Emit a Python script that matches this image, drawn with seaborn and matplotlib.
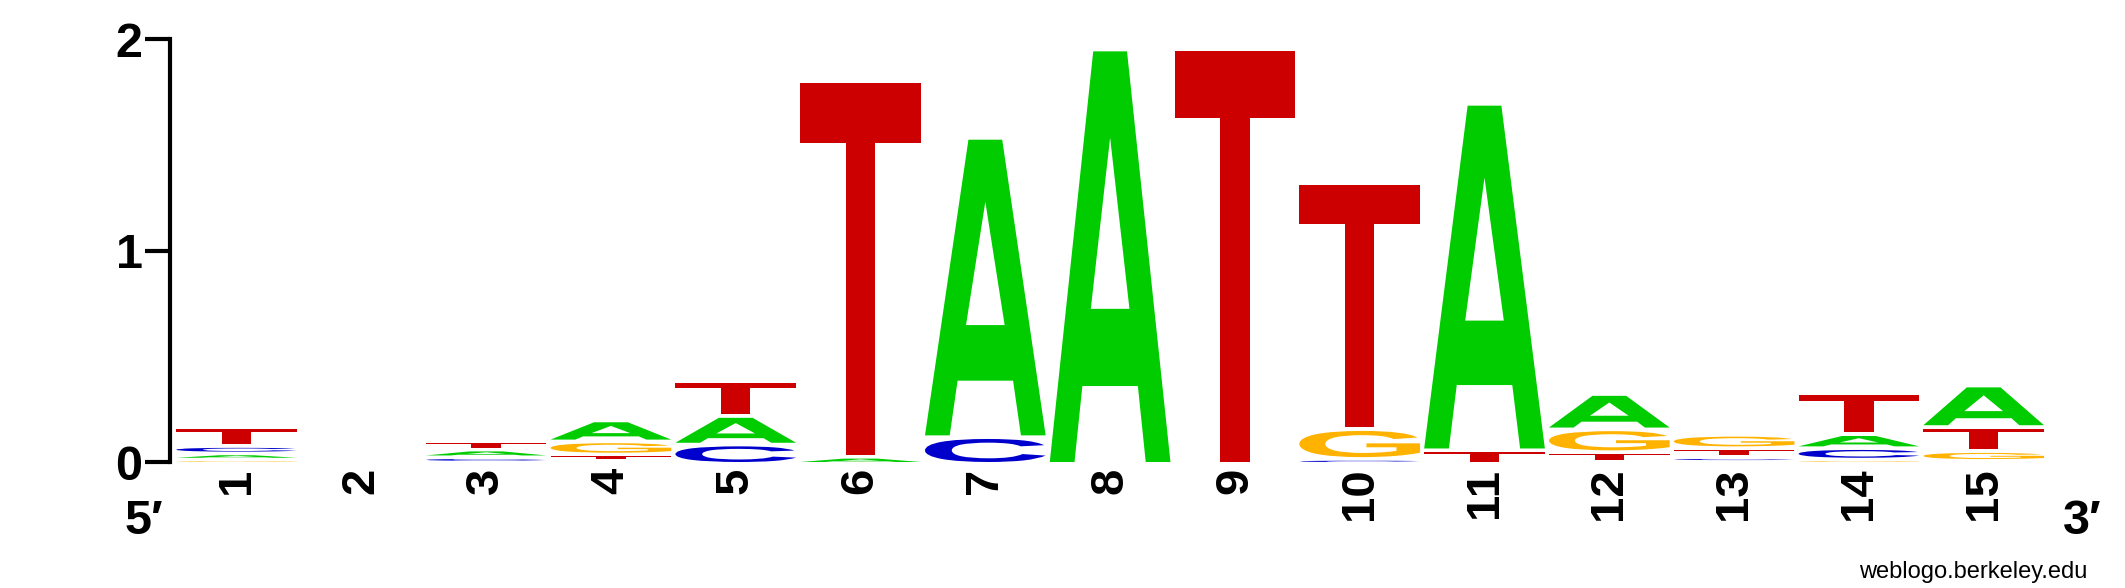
import matplotlib
matplotlib.use("Agg")
import matplotlib.pyplot as plt
import seaborn as sns
import numpy as np
import pandas as pd
from matplotlib.textpath import TextPath
from matplotlib.font_manager import FontProperties
from matplotlib.patches import PathPatch
from matplotlib.path import Path
from matplotlib.transforms import Affine2D

sns.set_style("white")
plt.rcParams['font.family'] = ['Liberation Sans', 'DejaVu Sans']
plt.rcParams['text.color'] = 'black'
plt.rcParams['xtick.color'] = 'black'
plt.rcParams['ytick.color'] = 'black'
plt.rcParams['axes.edgecolor'] = 'black'

# sequence logo data: bits per base and position
positions = list(range(1, 16))
bits_A = [0.029, 0, 0.036, 0.099, 0.135, 0.033, 1.416, 1.960, 0, 0, 1.639, 0.167, 0.009, 0.066, 0.196]
bits_C = [0.035, 0, 0.025, 0.016, 0.091, 0, 0.126, 0, 0, 0.023, 0, 0.011, 0.022, 0.054, 0.014]
bits_G = [0.020, 0, 0.006, 0.062, 0, 0, 0, 0, 0, 0.141, 0, 0.108, 0.063, 0.020, 0.046]
bits_T = [0.087, 0, 0.039, 0.028, 0.166, 1.779, 0, 0, 1.960, 1.164, 0.064, 0.044, 0.043, 0.192, 0.114]

colores = {'A': '#00CC00', 'C': '#0000CC', 'G': '#FFB300', 'T': '#CC0000'}

datos = pd.DataFrame({'pos': positions, 'A': bits_A, 'C': bits_C, 'G': bits_G, 'T': bits_T})

fuente_letra = FontProperties(family='Liberation Sans', weight='bold')
ANCHO = 0.967   # letter width
HUECO = 0.017   # gap between stacked letters

# Helvetica-Bold style "A" (flat top), unit box; Liberation's A is too pointy
_ext = [(0, 0), (0.205, 0), (0.27, 0.185), (0.73, 0.185), (0.795, 0), (1, 0),
        (0.64, 1), (0.36, 1), (0, 0)]
_int = [(0.34, 0.373), (0.5, 0.79), (0.66, 0.373), (0.34, 0.373)]
_cod = ([Path.MOVETO] + [Path.LINETO] * (len(_ext) - 2) + [Path.CLOSEPOLY] +
        [Path.MOVETO] + [Path.LINETO] * (len(_int) - 2) + [Path.CLOSEPOLY])
path_A = Path(_ext + _int, _cod)


def glifo(letra):
    if letra == 'A':
        return path_A
    return TextPath((0, 0), letra, size=1, prop=fuente_letra)


def dibuja_letra(ax, letra, xc, y0, h):
    tp = glifo(letra)
    bb = tp.get_extents()
    tr = (Affine2D().translate(-bb.x0, -bb.y0)
          .scale(ANCHO / bb.width, h / bb.height)
          .translate(xc - ANCHO / 2, y0))
    ax.add_patch(PathPatch(tr.transform_path(tp), facecolor=colores[letra],
                           edgecolor='none', lw=0))


fig = plt.figure(figsize=(21.25, 5.88), dpi=100)
ax = fig.add_axes([170.4 / 2125, 126 / 588, 1875.7 / 2125, 422.7 / 588])

for _, fila in datos.iterrows():
    # smallest letter at the bottom, biggest on top
    alturas = sorted([(fila[b], b) for b in 'ACGT'])
    y = 0.0
    for h, b in alturas:
        if h - HUECO > 0:
            dibuja_letra(ax, b, fila['pos'], y, h - HUECO)
        y += h

ax.set_xlim(0.47, 15.5)
ax.set_ylim(0, 2)
for lado in ['top', 'right', 'bottom']:
    ax.spines[lado].set_visible(False)
ax.spines['left'].set_linewidth(3)
ax.spines['left'].set_color('black')

ax.set_yticks([0, 1, 2])
ax.set_yticklabels(['0', '1', '2'], fontsize=35, fontweight='bold')
ax.tick_params(axis='y', length=18, width=3, pad=2, color='black', direction='out', left=True)

ax.set_xticks(positions)
ax.set_xticklabels([str(p) for p in positions], fontsize=34, fontweight='bold', rotation=90)
ax.tick_params(axis='x', length=0, pad=4)

fig.text(125 / 2125, 1 - 522 / 588, "5\u2032", fontsize=35, fontweight='bold', ha='left', va='center')
fig.text(2102 / 2125, 1 - 522 / 588, "3\u2032", fontsize=35, fontweight='bold', ha='right', va='center')
fig.text(2087 / 2125, 1 - 572 / 588, "weblogo.berkeley.edu", fontsize=17, ha='right', va='center')

plt.savefig("out.png", dpi=100)
